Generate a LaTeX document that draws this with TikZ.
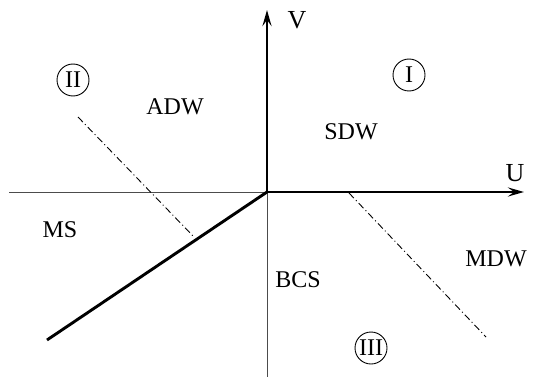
\documentclass[tikz,border=0pt]{standalone}
\usepackage{fontspec}
\setmainfont{Liberation Serif}
\usetikzlibrary{arrows.meta}
\begin{document}
\begin{tikzpicture}[x=1pt,y=-1pt,
  thinline/.style={line width=1pt,black!70},
  thickline/.style={line width=2.9pt},
  axisarrow/.style={thickline,-{Stealth[length=16pt,width=9pt,inset=6pt]}},
  dashdot/.style={line width=0.9pt,dash pattern=on 7pt off 3pt on 1pt off 3pt},
  lbl/.style={font=\fontsize{24}{26}\selectfont,inner sep=0pt},
  axlbl/.style={font=\fontsize{26}{28}\selectfont,inner sep=0pt},
  roman/.style={draw,circle,line width=0.9pt,minimum size=32pt,inner sep=0pt,font=\fontsize{24}{26}\selectfont}]
\useasboundingbox (0,0) rectangle (534,377);
\coordinate (O) at (267,192);
\coordinate (Lend) at (9,192);
\coordinate (Dend) at (267,377);
\coordinate (Uend) at (524,192);
\coordinate (Vend) at (267,10);
\coordinate (Send) at (47,340);
\coordinate (A1) at (78,117);
\coordinate (A2) at (194,237);
\coordinate (B1) at (349,193);
\coordinate (B2) at (486,337);
\draw[thinline] (Lend) -- (O);
\draw[thinline] (O) -- (Dend);
\draw[axisarrow] (O) -- (Uend);
\draw[axisarrow] (O) -- (Vend);
\draw[thickline] (O) -- (Send);
\draw[dashdot] (A1) -- (A2);
\draw[dashdot] (B1) -- (B2);
\node[axlbl] (V) at (297,20) {V};
\node[axlbl] (U) at (515,173) {U};
\node[roman] (r1) at (409,75) {I};
\node[roman] (r2) at (73,80) {II};
\node[roman] (r3) at (371,348) {III};
\node[lbl] (adw) at (175,107) {ADW};
\node[lbl] (sdw) at (351,132) {SDW};
\node[lbl] (ms) at (60,230) {MS};
\node[lbl] (mdw) at (496,259) {MDW};
\node[lbl] (bcs) at (298,280) {BCS};
\end{tikzpicture}
\end{document}
